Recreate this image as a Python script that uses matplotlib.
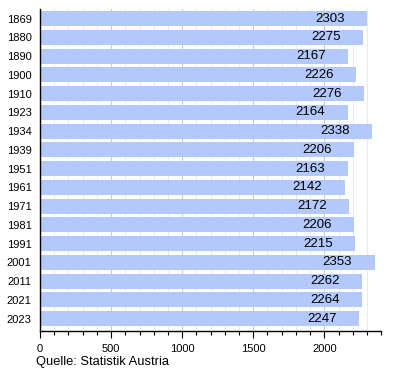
import numpy as np
import matplotlib
matplotlib.use("Agg")
import matplotlib.pyplot as plt
from matplotlib.ticker import MultipleLocator

plt.rcParams['font.family'] = ['Liberation Sans', 'DejaVu Sans']

years = ["1869", "1880", "1890", "1900", "1910", "1923", "1934", "1939", "1951",
         "1961", "1971", "1981", "1991", "2001", "2011", "2021", "2023"]
population = [2303, 2275, 2167, 2226, 2276, 2164, 2338, 2206, 2163,
              2142, 2172, 2206, 2215, 2353, 2262, 2264, 2247]

fig = plt.figure(figsize=(4, 3.7), dpi=100)
ax = fig.add_axes([0.1, 0.105, 0.853, 0.87])

y = np.arange(len(years))
ax.barh(y, population, height=0.8, color='#b3c8fb', zorder=2)

for yi, v in zip(y, population):
    ax.annotate(str(v), xy=(v, yi), xytext=(-16, 0), textcoords='offset points',
                ha='right', va='center', fontsize=9.5, color='black', zorder=3)

ax.set_ylim(len(years) - 0.33, -0.5)
ax.set_xlim(0, 2400)
ax.set_yticks(y)
ax.set_yticklabels(years, fontsize=8)
ax.tick_params(axis='y', length=0, pad=6)

ax.xaxis.set_major_locator(MultipleLocator(500))
ax.xaxis.set_minor_locator(MultipleLocator(100))
ax.tick_params(axis='x', which='major', length=5, width=0.8, labelsize=8, pad=4)
ax.tick_params(axis='x', which='minor', length=3, width=0.8)
ax.grid(axis='x', which='major', color='#cccccc', linewidth=0.8, zorder=0)
ax.grid(axis='x', which='minor', color='#e6e6e6', linewidth=0.6, zorder=0)
ax.set_axisbelow(True)

for s in ['top', 'right']:
    ax.spines[s].set_visible(False)
ax.spines['left'].set_linewidth(1)
ax.spines['bottom'].set_linewidth(1)

fig.text(0.09, 0.005, "Quelle: Statistik Austria", fontsize=9.3, ha='left', va='bottom')

fig.savefig("out.png", dpi=100)
